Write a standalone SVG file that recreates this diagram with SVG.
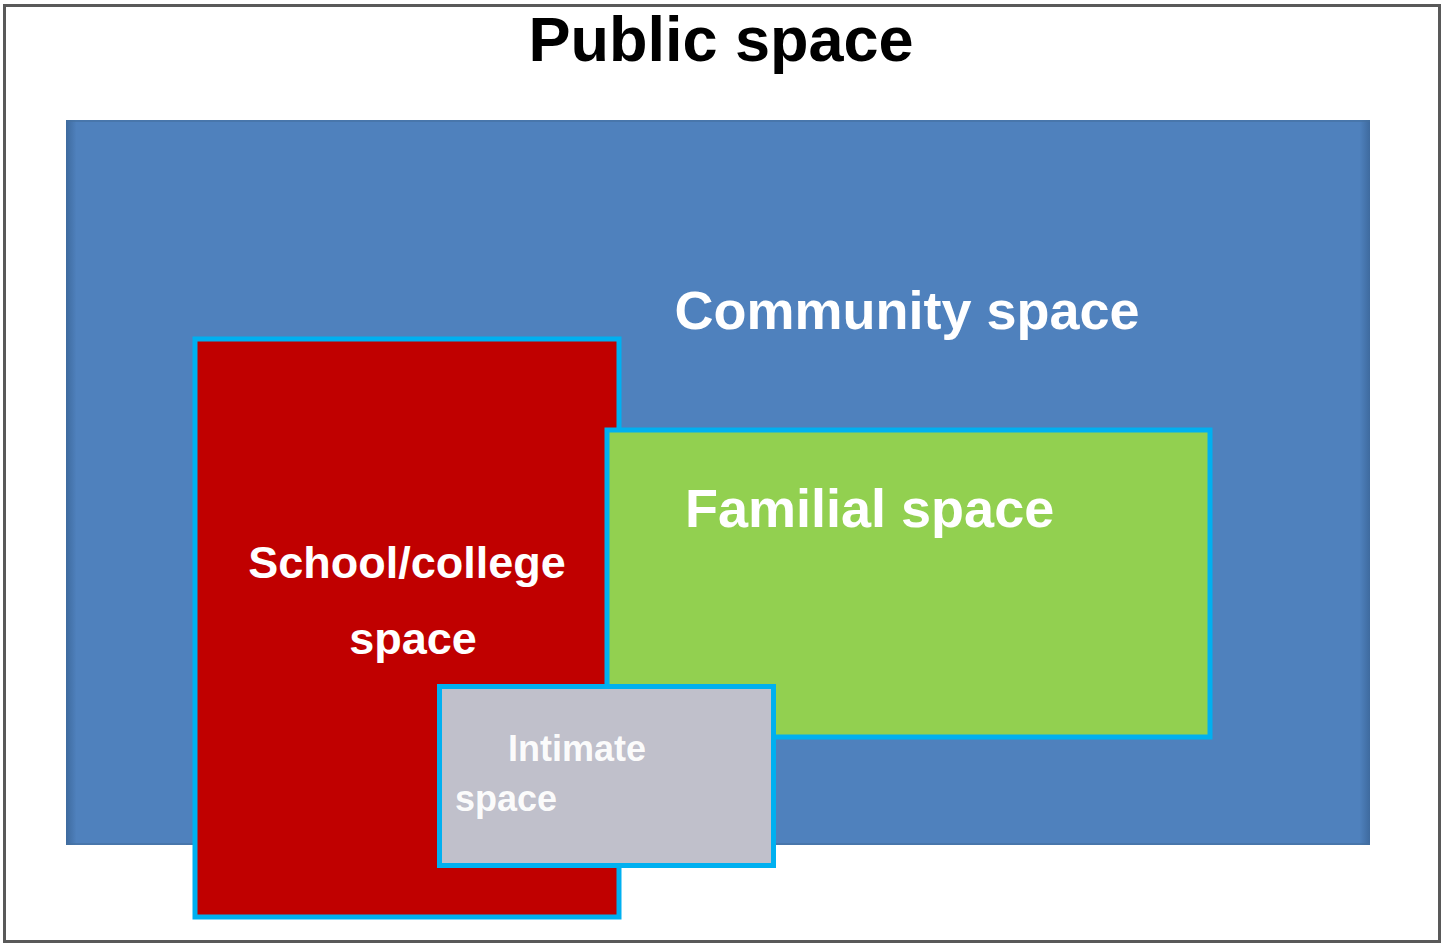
<svg xmlns="http://www.w3.org/2000/svg" width="1442" height="944" viewBox="0 0 1442 944">
<style>
.lbl{font-family:"Liberation Sans",Arial,sans-serif;font-weight:bold;fill:#FFFFFF}
.box{stroke:#00B0F0;stroke-width:5}
</style>
<defs>
<linearGradient id="edge" x1="0" y1="0" x2="1" y2="0">
<stop offset="0" stop-color="#3E6A9E"/>
<stop offset="0.008" stop-color="#4F81BD"/>
<stop offset="0.992" stop-color="#4F81BD"/>
<stop offset="1" stop-color="#3E6A9E"/>
</linearGradient>
</defs>
<g id="public">
<rect x="4.5" y="5.5" width="1435" height="936" fill="#FFFFFF" stroke="#595959" stroke-width="3"/>
<text x="721" y="61" text-anchor="middle" font-family="Liberation Sans, Arial, sans-serif" font-weight="bold" font-size="63" fill="#000000">Public space</text>
</g>
<g id="community">
<rect x="66" y="120" width="1304" height="725" fill="url(#edge)"/>
<rect x="66" y="120" width="1304" height="2" fill="#44709F" opacity="0.6"/>
<rect x="66" y="843" width="1304" height="2" fill="#44709F" opacity="0.6"/>
<text class="lbl" x="907" y="329" text-anchor="middle" font-size="54">Community space</text>
</g>
<g id="school">
<rect class="box" x="195" y="339" width="424" height="578" fill="#C00000"/>
<text class="lbl" x="407" y="578" text-anchor="middle" font-size="45">School/college</text>
<text class="lbl" x="413" y="654" text-anchor="middle" font-size="45">space</text>
</g>
<g id="familial">
<rect class="box" x="607" y="430" width="603" height="307" fill="#92D050"/>
<text class="lbl" x="685" y="527" font-size="54">Familial space</text>
</g>
<g id="intimate">
<rect class="box" x="439.5" y="686.5" width="334" height="179" fill="#C0C0CB"/>
<text class="lbl" x="508" y="761" font-size="36" fill-opacity="0.95">Intimate</text>
<text class="lbl" x="455" y="811" font-size="36" fill-opacity="0.95">space</text>
</g>
<g id="connectors"></g>
</svg>
